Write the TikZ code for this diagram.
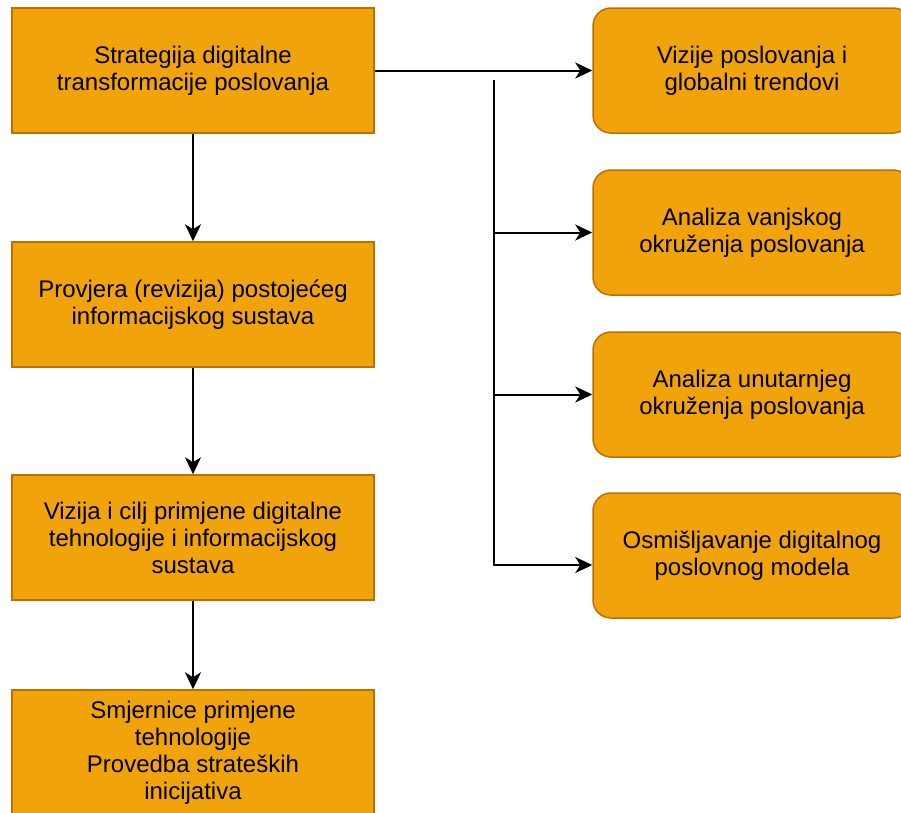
\documentclass[tikz,border=0pt]{standalone}
\usepackage{fontspec}
\setmainfont{Liberation Sans}
\usetikzlibrary{arrows.meta}
\definecolor{boxfill}{HTML}{F0A30A}
\definecolor{boxline}{HTML}{BD7000}
\begin{document}
\begin{tikzpicture}[x=1pt,y=-1pt,
        step box/.style={draw=boxline,fill=boxfill,line width=1.5pt,
          minimum width=362pt,minimum height=125pt,align=center,
          font=\fontsize{24}{27}\selectfont},
        goal box/.style={step box,minimum width=318pt,rounded corners=18pt},
        flow/.style={line width=2pt,-{Stealth[length=17pt,width=16pt,inset=5pt]}}]
      \useasboundingbox (0,0) rectangle (901,812);
      % left column
      \node[step box] (strat) at (193,70.5) {Strategija digitalne\\transformacije poslovanja};
      \node[step box] (prov)  at (193,304.5) {Provjera (revizija) postojećeg\\informacijskog sustava};
      \node[step box] (viz)   at (193,537.5) {Vizija i cilj primjene digitalne\\tehnologije i informacijskog\\sustava};
      \node[step box] (smj)   at (193,752.5) {Smjernice primjene\\tehnologije\\Provedba strateških\\inicijativa};
      % right column
      \node[goal box] (trend) at (752,70.5) {Vizije poslovanja i\\globalni trendovi};
      \node[goal box] (van)   at (752,232.5) {Analiza vanjskog\\okruženja poslovanja};
      \node[goal box] (unu)   at (752,394.5) {Analiza unutarnjeg\\okruženja poslovanja};
      \node[goal box] (model) at (752,555.5) {Osmišljavanje digitalnog\\poslovnog modela};
      \coordinate (split) at (494,80);
      \coordinate (splitend) at (494,565);
      % connectors
      \draw[flow] (strat) -- (prov);
      \draw[flow] (prov) -- (viz);
      \draw[flow] (viz) -- (smj);
      \draw[flow] (strat) -- (trend);
      \draw[flow] (split |- van) -- (van);
      \draw[flow] (split |- unu) -- (unu);
      \draw[flow] (split) -- (splitend) -- (splitend -| model.west);
    \end{tikzpicture}
\end{document}
